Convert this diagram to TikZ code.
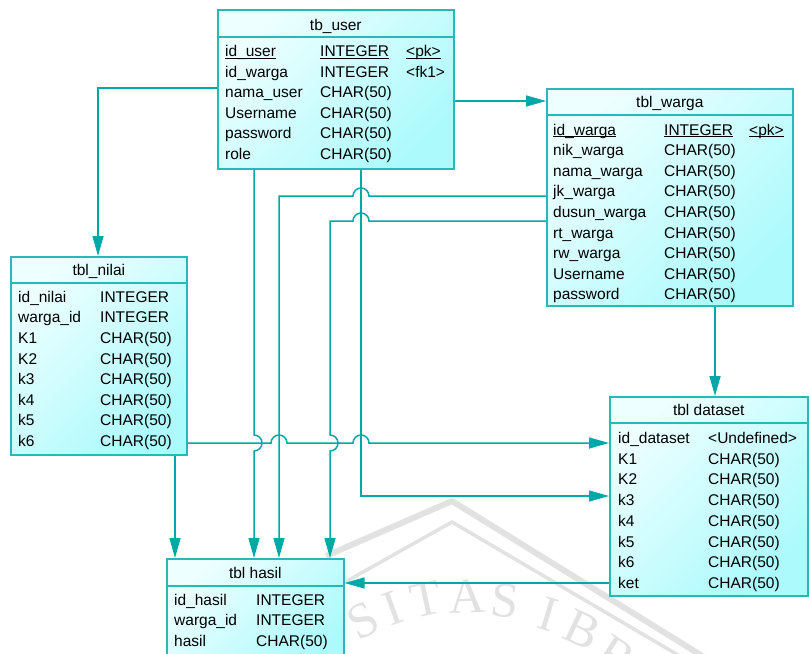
\documentclass[tikz,border=0pt]{standalone}
\usepackage{fontspec}
\setmainfont{Liberation Sans}
\newfontfamily\wmfont{Liberation Serif}
\usetikzlibrary{arrows.meta}

\definecolor{erline}{RGB}{0,168,168}
\definecolor{erbox}{RGB}{40,184,184}
\definecolor{erlight}{RGB}{238,255,255}
\definecolor{erdark}{RGB}{172,250,252}
\definecolor{wmark}{RGB}{226,226,226}

% underline sitting on the underscore line
\newcommand{\pkline}[1]{\setbox0\hbox{#1}\rlap{\rule[-2.3pt]{\wd0}{1.1pt}}\box0}

\begin{document}
\begin{tikzpicture}[x=1pt,y=-1pt,
  tbl/.style={draw=erbox,line width=1.6pt,anchor=north west,inner sep=0pt,
    top color=erlight,bottom color=erdark,shading angle=45},
  sep/.style={draw=erbox,line width=1.6pt},
  ttl/.style={anchor=base,inner sep=0pt,font=\fontsize{15.5}{18}\selectfont},
  fld/.style={anchor=base west,inner sep=0pt,font=\fontsize{15.5}{18}\selectfont},
  wm/.style={inner sep=0pt,text=wmark,font=\wmfont\fontsize{50}{50}\selectfont},
  fk/.style={draw=erline,line width=1.5pt,-{Triangle[length=20pt,width=11pt]}}]
  \useasboundingbox (0,0) rectangle (810,653);
  \fill[white] (0,0) rectangle (810,653);

  % watermark
  \draw[wmark,line width=6pt,line join=round] (326,556) -- (452,501) -- (712,662);
  \draw[wmark,line width=3.5pt,line join=round] (338,586) -- (452,522) -- (690,662);
  \foreach \l/\x/\y/\r [count=\i] in {S/363/621/28, I/393/608/20, T/426/599/12,
      A/467/596/2, S/505/601/-6, I/548/614/-17, B/582/630/-25, R/616/656/-33}
    \node[wm,rotate=\r] (wm\i) at (\x,\y) {\l};

  % tables
  \node[tbl,minimum width=236pt,minimum height=159pt] (user) at (217,9) {};
  \draw[sep] (user.west |- 0,37) -- (user.east |- 0,37);
  \node[ttl] (usert) at (user.north |- 0,30) {tb\_user};
  \foreach \a/\b/\c [count=\i from 0] in {{\pkline{id\_user}}/{\pkline{INTEGER}}/{\pkline{<pk>}},
      id\_warga/INTEGER/{<fk1>}, nama\_user/CHAR(50)/{}, Username/CHAR(50)/{},
      password/CHAR(50)/{}, role/CHAR(50)/{}} {
    \node[fld] at (225,56.5+20.6*\i) {\a};
    \node[fld] at (320,56.5+20.6*\i) {\b};
    \node[fld] at (406,56.5+20.6*\i) {\c};
  }

  \node[tbl,minimum width=246pt,minimum height=217pt] (warga) at (546,88) {};
  \draw[sep] (warga.west |- 0,115) -- (warga.east |- 0,115);
  \node[ttl] (wargat) at (warga.north |- 0,107.5) {tbl\_warga};
  \foreach \a/\b/\c [count=\i from 0] in {{\pkline{id\_warga}}/{\pkline{INTEGER}}/{\pkline{<pk>}},
      nik\_warga/CHAR(50)/{}, nama\_warga/CHAR(50)/{}, jk\_warga/CHAR(50)/{},
      dusun\_warga/CHAR(50)/{}, rt\_warga/CHAR(50)/{}, rw\_warga/CHAR(50)/{},
      Username/CHAR(50)/{}, password/CHAR(50)/{}} {
    \node[fld] at (553,135+20.6*\i) {\a};
    \node[fld] at (664,135+20.6*\i) {\b};
    \node[fld] at (749,135+20.6*\i) {\c};
  }

  \node[tbl,minimum width=176pt,minimum height=198pt] (nilai) at (10,256) {};
  \draw[sep] (nilai.west |- 0,283) -- (nilai.east |- 0,283);
  \node[ttl] (nilait) at (nilai.north |- 0,275.5) {tbl\_nilai};
  \foreach \a/\b [count=\i from 0] in {id\_nilai/INTEGER, warga\_id/INTEGER,
      K1/CHAR(50), K2/CHAR(50), k3/CHAR(50), k4/CHAR(50), k5/CHAR(50), k6/CHAR(50)} {
    \node[fld] at (18,302.3+20.6*\i) {\a};
    \node[fld] at (100,302.3+20.6*\i) {\b};
  }

  \node[tbl,minimum width=198pt,minimum height=199pt] (dataset) at (609,396) {};
  \draw[sep] (dataset.west |- 0,423) -- (dataset.east |- 0,423);
  \node[ttl] (datasett) at (dataset.north |- 0,415.5) {tbl dataset};
  \foreach \a/\b [count=\i from 0] in {id\_dataset/{<Undefined>}, K1/CHAR(50),
      K2/CHAR(50), k3/CHAR(50), k4/CHAR(50), k5/CHAR(50), k6/CHAR(50), ket/CHAR(50)} {
    \node[fld] at (618,443.5+20.7*\i) {\a};
    \node[fld] at (708,443.5+20.7*\i) {\b};
  }

  \node[tbl,minimum width=177pt,minimum height=112pt] (hasil) at (166,558) {};
  \draw[sep] (hasil.west |- 0,586) -- (hasil.east |- 0,586);
  \node[ttl] (hasilt) at (hasil.north |- 0,578.5) {tbl hasil};
  \foreach \a/\b [count=\i from 0] in {id\_hasil/INTEGER, warga\_id/INTEGER, hasil/CHAR(50)} {
    \node[fld] at (174,605+20.8*\i) {\a};
    \node[fld] at (256,605+20.8*\i) {\b};
  }

  % references
  \draw[fk] (user.east |- 0,101) -- (warga.west |- 0,101);
  \draw[fk] (user.west |- 0,88) -| (nilai.north -| 98,0);
  \draw[fk] (user.south -| 254,0) -- (254,435) arc[start angle=90,end angle=-90,radius=8pt]
    -- (hasil.north -| 254,0);
  \draw[fk] (warga.west |- 0,196) -- (369,196) arc[start angle=0,end angle=180,radius=8pt]
    -- (279,196) -- (hasil.north -| 279,0);
  \draw[fk] (warga.west |- 0,221) -- (369,221) arc[start angle=0,end angle=180,radius=8pt]
    -- (330,221) -- (330,435) arc[start angle=90,end angle=-90,radius=8pt]
    -- (hasil.north -| 330,0);
  \draw[fk] (user.south -| 361,0) -- (361,496) -- (dataset.west |- 0,496);
  \draw[fk] (nilai.east |- 0,443) -- (271,443) arc[start angle=180,end angle=0,radius=8pt]
    -- (353,443) arc[start angle=180,end angle=0,radius=8pt] -- (dataset.west |- 0,443);
  \draw[fk] (nilai.south -| 175,0) -- (hasil.north -| 175,0);
  \draw[fk] (warga.south -| 715,0) -- (dataset.north -| 715,0);
  \draw[fk] (dataset.west |- 0,583) -- (hasil.east |- 0,583);
\end{tikzpicture}
\end{document}
